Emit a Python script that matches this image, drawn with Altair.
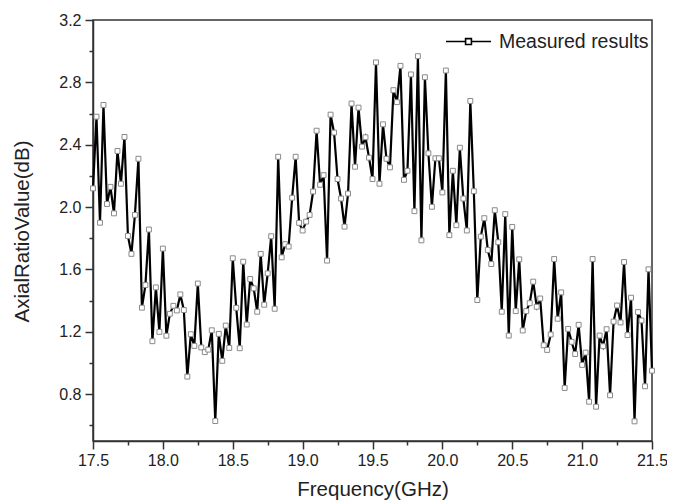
import altair as alt
import pandas as pd

# Frequency sweep: 17.5 GHz to 21.5 GHz, step 0.025 GHz (161 points)
f_start = 17.5
f_step = 0.025

axial_ratio = [
    2.12, 2.58, 1.90, 2.655, 2.02, 2.13, 1.96, 2.36, 2.15, 2.45,
    1.815, 1.70, 1.95, 2.31, 1.355, 1.50, 1.856, 1.14, 1.485, 1.20,
    1.734, 1.175, 1.316, 1.367, 1.337, 1.44, 1.34, 0.913, 1.185, 1.11,
    1.51, 1.10, 1.07, 1.086, 1.21, 0.628, 1.187, 1.014, 1.24, 1.097,
    1.672, 1.354, 1.095, 1.65, 1.247, 1.539, 1.479, 1.329, 1.70, 1.374,
    1.575, 1.813, 1.348, 2.323, 1.678, 1.762, 1.747, 2.06, 2.323, 1.899,
    1.85, 1.907, 1.95, 2.10, 2.49, 2.143, 2.205, 1.657, 2.593, 2.478,
    2.18, 2.055, 1.875, 2.087, 2.664, 2.259, 2.638, 2.388, 2.448, 2.317,
    2.18, 2.928, 2.15, 2.531, 2.31, 2.255, 2.75, 2.673, 2.906, 2.175,
    2.233, 2.851, 1.974, 2.968, 1.787, 2.833, 2.345, 2.002, 2.313, 2.313,
    2.094, 2.876, 1.82, 2.233, 1.884, 2.381, 2.055, 1.85, 2.681, 2.102,
    1.404, 1.811, 1.929, 1.725, 1.635, 1.98, 1.775, 1.329, 1.955, 1.176,
    1.873, 1.333, 1.665, 1.209, 1.333, 1.384, 1.522, 1.361, 1.414, 1.114,
    1.084, 1.183, 1.667, 1.284, 1.453, 0.84, 1.219, 1.136, 1.058, 1.245,
    0.988, 1.067, 0.752, 1.667, 0.72, 1.176, 1.108, 1.217, 0.793, 1.266,
    1.369, 1.26, 1.648, 1.179, 1.419, 0.626, 1.327, 1.273, 0.851, 1.601,
    0.951,
]

x_major = [17.5, 18.0, 18.5, 19.0, 19.5, 20.0, 20.5, 21.0, 21.5]
x_minor = [17.75, 18.25, 18.75, 19.25, 19.75, 20.25, 20.75, 21.25]
y_major = [0.8, 1.2, 1.6, 2.0, 2.4, 2.8, 3.2]
y_minor = [0.6, 1.0, 1.4, 1.8, 2.2, 2.6, 3.0]

series_name = "Measured results"

freq = [round(f_start + f_step * i, 3) for i in range(len(axial_ratio))]
df = pd.DataFrame({"freq": freq, "ar": axial_ratio, "series": series_name})

FONT = "Liberation Sans"
INK = "#222222"
AXC = "#333333"

x_scale = alt.Scale(domain=[17.5, 21.5], nice=False, zero=False)
y_scale = alt.Scale(domain=[0.5, 3.2], nice=False, zero=False)

legend_path = "M-1,0H-0.13M0.13,0H1M-0.13,-0.13H0.13V0.13H-0.13Z"

line = alt.Chart(df).mark_line(strokeWidth=2.2).encode(
    x=alt.X(
        "freq:Q",
        scale=x_scale,
        axis=alt.Axis(
            orient="bottom",
            title="Frequency(GHz)",
            values=x_major,
            format=".1f",
            tickSize=8,
            grid=False,
            labelFlush=False,
            labelOverlap=False,
            labelPadding=3,
            titleY=48,
            titleBaseline="middle",
        ),
    ),
    y=alt.Y(
        "ar:Q",
        scale=y_scale,
        axis=alt.Axis(
            orient="left",
            title="AxialRatioValue(dB)",
            values=y_major,
            format=".1f",
            tickSize=8,
            grid=False,
            labelFlush=False,
            labelOverlap=False,
            labelPadding=4,
            titleX=-71,
            titleY=211,
            titleAlign="center",
            titleBaseline="middle",
        ),
    ),
    color=alt.Color(
        "series:N",
        scale=alt.Scale(range=["black"]),
        legend=alt.Legend(
            title=None,
            orient="none",
            legendX=352,
            legendY=-2,
            padding=0,
            symbolType=legend_path,
            symbolSize=2025,
            symbolStrokeWidth=1.6,
            symbolFillColor="white",
            symbolStrokeColor="black",
            labelFont=FONT,
            labelFontSize=19.5,
            labelColor=INK,
            labelOffset=7,
        ),
    ),
)

points = alt.Chart(df).mark_point(
    shape="square", filled=False, fill="white", fillOpacity=1,
    stroke="#8a8a8a", strokeWidth=1, size=24, opacity=1,
).encode(
    x=alt.X(
        "freq:Q",
        scale=x_scale,
        axis=alt.Axis(
            orient="bottom", title=None, values=x_minor, tickSize=4,
            labels=False, domain=False, grid=False,
        ),
    ),
    y=alt.Y(
        "ar:Q",
        scale=y_scale,
        axis=alt.Axis(
            orient="left", title=None, values=y_minor, tickSize=4,
            labels=False, domain=False, grid=False,
        ),
    ),
)

chart = (
    alt.layer(line, points)
    .resolve_scale(x="shared", y="shared")
    .resolve_axis(x="independent", y="independent")
    .properties(
        width=559,
        height=421,
        autosize=alt.AutoSizeParams(type="none"),
        padding={"left": 85, "top": 12, "right": 15, "bottom": 63},
        background="white",
    )
    .configure_view(stroke=AXC, strokeWidth=1.5)
    .configure_axis(
        domainColor=AXC,
        domainWidth=1.5,
        tickColor=AXC,
        tickWidth=1.5,
        labelFont=FONT,
        labelFontSize=16,
        labelColor=INK,
        titleFont=FONT,
        titleFontSize=20.5,
        titleFontWeight="normal",
        titleColor=INK,
    )
)

chart.save("out.html", embed_options={"renderer": "svg", "actions": False})
